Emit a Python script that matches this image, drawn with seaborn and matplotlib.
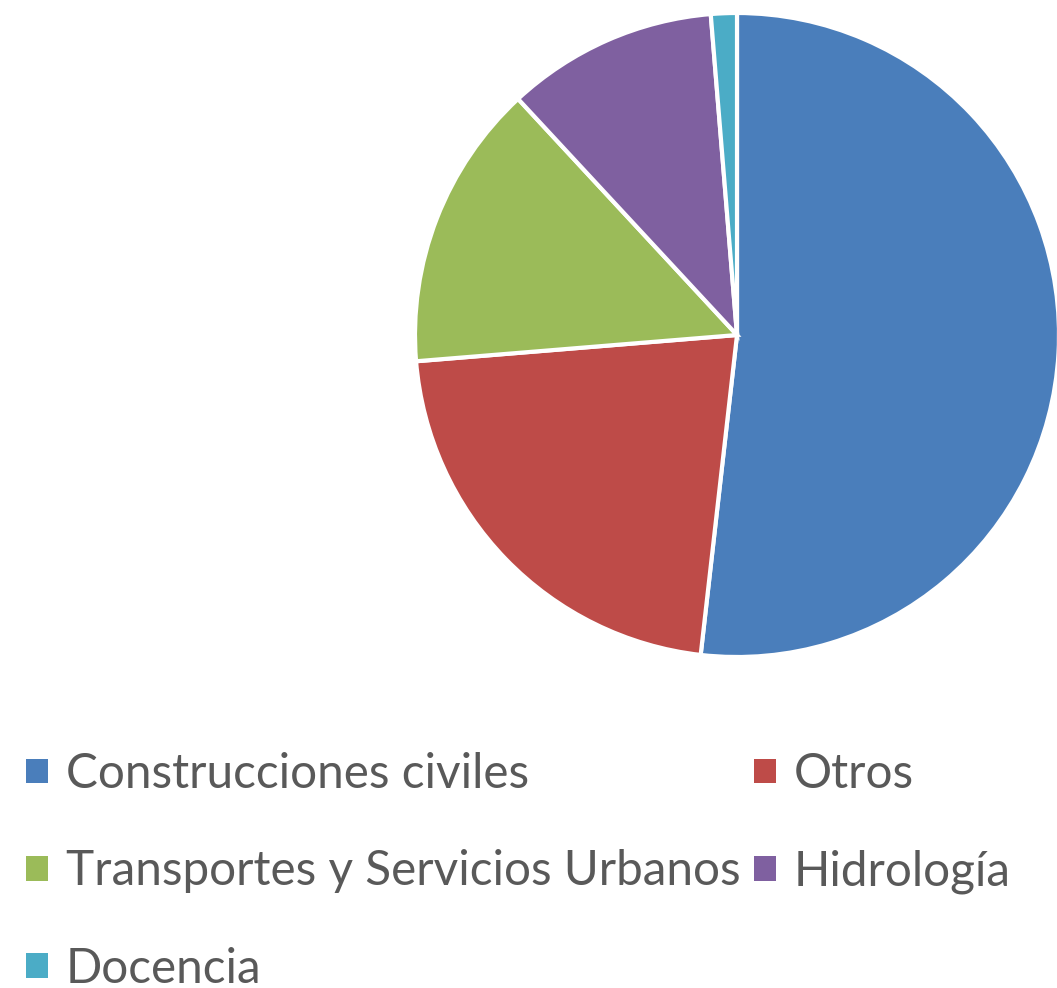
import matplotlib
matplotlib.use("Agg")
import matplotlib.pyplot as plt
import seaborn as sns

# data
categories = ["Construcciones civiles", "Otros", "Transportes y Servicios Urbanos",
              "Hidrología", "Docencia"]
shares = [51.8, 21.9, 14.4, 10.6, 1.3]
colors = ["#4A7EBB", "#BE4B48", "#9BBB59", "#7F60A0", "#4BACC6"]

sns.set_theme(style="white")
plt.rcParams["font.family"] = ["Lato", "DejaVu Sans"]

fig = plt.figure(figsize=(10.57, 9.88), dpi=100)
# square box around the pie, in figure fractions
ax = fig.add_axes([415 / 1057, (988 - 657) / 988, 644 / 1057, 644 / 988])

wedges, _ = ax.pie(shares, colors=sns.color_palette(colors), startangle=90,
                   counterclock=False, radius=1,
                   wedgeprops=dict(edgecolor="white", linewidth=3))
for w in wedges:
    w.set_clip_on(False)
ax.set_xlim(-1, 1)
ax.set_ylim(-1, 1)
ax.axis("off")

# legend fills column by column, reorder so it reads row by row
order = [0, 2, 4, 1, 3]
leg = fig.legend([wedges[i] for i in order], [categories[i] for i in order],
                 loc="upper left", bbox_to_anchor=(26 / 1057, 0.239),
                 ncol=2, frameon=False, fontsize=34.3, borderpad=0, borderaxespad=0,
                 handlelength=0.46, handleheight=0.42, handletextpad=0.37,
                 columnspacing=0.3, labelspacing=1.12)
for t in leg.get_texts():
    t.set_color("#595959")
for h in leg.legend_handles:
    h.set_edgecolor("none")

fig.savefig("out.png", dpi=100)
